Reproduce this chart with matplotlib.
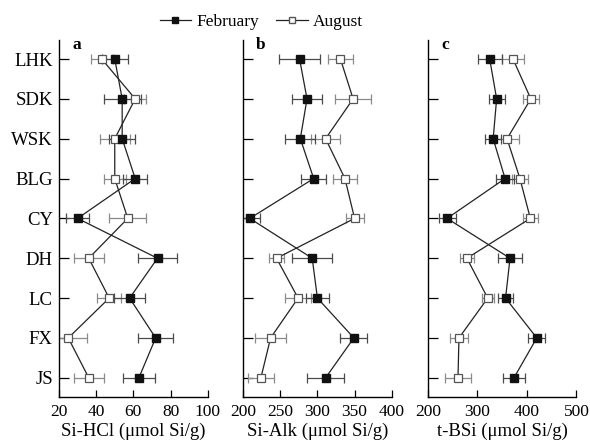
import matplotlib
matplotlib.use("Agg")
import matplotlib.pyplot as plt
from matplotlib.lines import Line2D
import numpy as np

plt.rcParams.update({
    "font.family": ["Liberation Serif", "DejaVu Serif"],
    "font.size": 12,
    "axes.spines.top": False,
    "axes.spines.right": False,
})

sites = ["LHK", "SDK", "WSK", "BLG", "CY", "DH", "LC", "FX", "JS"]

# Si-HCl (umol Si/g)
hcl_feb = [50, 54, 54, 61, 30, 73, 58, 72, 63]
hcl_feb_err = [7, 10, 7, 6.5, 6, 10.5, 8.5, 9.5, 8.5]
hcl_aug = [43, 61, 50, 50, 57, 36, 47, 25, 36]
hcl_aug_err = [6, 6, 8, 6, 10, 8, 6.5, 10, 8]

# Si-Alk (umol Si/g)
alk_feb = [276, 286, 277, 295, 209, 293, 300, 349, 311]
alk_feb_err = [28, 20, 20, 17, 14, 27, 15, 18, 25]
alk_aug = [331, 348, 311, 337, 350, 245, 274, 237, 224]
alk_aug_err = [17, 24, 20, 16, 12, 10, 18, 21, 17]

# t-BSi (umol Si/g)
tbsi_feb = [325, 339, 332, 356, 239, 366, 357, 420, 374]
tbsi_feb_err = [24, 16, 16, 18, 17, 24, 16, 17, 23]
tbsi_aug = [372, 408, 360, 386, 407, 279, 321, 263, 261]
tbsi_aug_err = [22, 16, 24, 16, 15, 14, 12, 19, 26]

panels = [
    ("a", hcl_feb, hcl_feb_err, hcl_aug, hcl_aug_err,
     (20, 100), [20, 40, 60, 80, 100], "Si-HCl (\u03bcmol Si/g)"),
    ("b", alk_feb, alk_feb_err, alk_aug, alk_aug_err,
     (200, 400), [200, 250, 300, 350, 400], "Si-Alk (\u03bcmol Si/g)"),
    ("c", tbsi_feb, tbsi_feb_err, tbsi_aug, tbsi_aug_err,
     (200, 500), [200, 300, 400, 500], "t-BSi (\u03bcmol Si/g)"),
]

fig = plt.figure(figsize=(5.9, 4.48), dpi=100)
lefts = [0.100, 0.412, 0.725]
y = np.arange(len(sites))

for i, (tag, feb, feb_err, aug, aug_err, xlim, xticks, xlabel) in enumerate(panels):
    ax = fig.add_axes([lefts[i], 0.114, 0.252, 0.797])
    ax.errorbar(aug, y, xerr=aug_err, fmt="none", ecolor="#8a8a8a",
                elinewidth=0.9, capsize=3.5, capthick=0.9, zorder=2)
    ax.errorbar(feb, y, xerr=feb_err, fmt="none", ecolor="#4a4a4a",
                elinewidth=0.9, capsize=3.5, capthick=0.9, zorder=2)
    ax.plot(aug, y, color="#222222", lw=0.9, marker="s", ms=5.5,
            mfc="white", mec="#555555", mew=0.9, zorder=3)
    ax.plot(feb, y, color="#222222", lw=0.9, marker="s", ms=5.5,
            mfc="#111111", mec="#111111", zorder=4)
    ax.set_xlim(*xlim)
    ax.set_xticks(xticks)
    ax.set_ylim(8.48, -0.48)
    ax.set_yticks(y)
    if i == 0:
        ax.set_yticklabels(sites, fontsize=13.5)
    else:
        ax.set_yticklabels([])
    ax.tick_params(axis="y", direction="in", length=7, width=0.9, pad=4.5)
    ax.tick_params(axis="x", direction="in", length=5, width=0.9, pad=5,
                   labelsize=12.5)
    for s in ("left", "bottom"):
        ax.spines[s].set_linewidth(1.0)
    ax.set_xlabel(xlabel, labelpad=2, fontsize=13.5)
    ax.text(0.12, 0.985, tag, transform=ax.transAxes, fontweight="bold",
            fontsize=12.5, ha="center", va="center")

handles = [
    Line2D([], [], color="#222222", lw=0.9, marker="s", ms=4.5,
           mfc="#111111", mec="#111111"),
    Line2D([], [], color="#222222", lw=0.9, marker="s", ms=4.5,
           mfc="white", mec="#555555"),
]
fig.legend(handles, ["February", "August"], loc="center",
           bbox_to_anchor=(0.443, 0.951), ncol=2, frameon=False,
           handlelength=1.8, handletextpad=0.3, columnspacing=1.0,
           fontsize=12.5)

fig.savefig("out.png", dpi=100)
